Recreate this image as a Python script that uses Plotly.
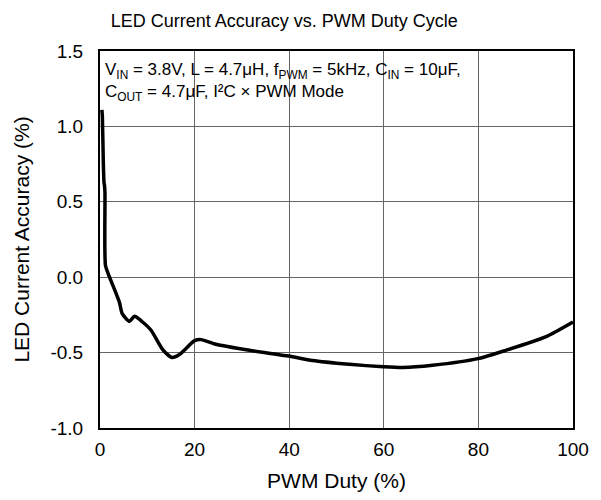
import plotly.graph_objects as go

duty = [0.4, 0.5, 0.7, 0.85, 0.95, 1.05, 1.16, 2.0, 4.1, 4.7, 6.2, 7.3, 9.0, 10.8, 13.3, 15.2,
        16.8, 20.0, 21.4, 24.5, 31.6, 39.9, 44.9, 52.7, 59.9, 64.0, 70.3, 79.9, 85.8, 94.2, 100.0]
accuracy = [1.11, 1.066, 0.761, 0.628, 0.608, 0.557, 0.078, 0.002, -0.166, -0.242, -0.293, -0.259,
            -0.297, -0.352, -0.482, -0.533, -0.513, -0.421, -0.414, -0.445, -0.485, -0.523, -0.553,
            -0.578, -0.594, -0.599, -0.584, -0.540, -0.485, -0.396, -0.297]

x_ticks = [0, 20, 40, 60, 80, 100]
y_ticks = [-1.0, -0.5, 0.0, 0.5, 1.0, 1.5]
y_tick_labels = ["-1.0", "-0.5", "0.0", "0.5", "1.0", "1.5"]

font = "Liberation Sans, Arial, sans-serif"

fig = go.Figure()
fig.add_trace(go.Scatter(x=duty, y=accuracy, mode="lines",
                         line=dict(color="black", width=3.5, shape="spline", smoothing=0.6),
                         showlegend=False, hoverinfo="skip"))

fig.update_layout(
    width=593, height=492,
    margin=dict(l=92, r=28, t=42.5, b=72),
    paper_bgcolor="white", plot_bgcolor="white",
    title=dict(text="LED Current Accuracy vs. PWM Duty Cycle", x=0.466, xanchor="center",
               y=1 - 13 / 492, yanchor="middle", font=dict(family=font, size=18, color="black")),
    font=dict(family=font, size=18, color="black"),
)
fig.update_xaxes(range=[0, 100], tickvals=x_ticks, ticks="", showgrid=True, gridcolor="#666666",
                 gridwidth=1, showline=True, linecolor="black", linewidth=2, mirror=True,
                 zeroline=False, ticklabelstandoff=3,
                 title=dict(text="PWM Duty (%)", font=dict(family=font, size=21), standoff=15),
                 tickfont=dict(family=font, size=19))
fig.update_yaxes(range=[-1.0, 1.5], tickvals=y_ticks, ticktext=y_tick_labels, ticks="",
                 showgrid=True, gridcolor="#666666", gridwidth=1, showline=True, linecolor="black",
                 linewidth=2, mirror=True, zeroline=False, ticklabelstandoff=11,
                 title=dict(text="LED Current Accuracy (%)", font=dict(family=font, size=21), standoff=15),
                 tickfont=dict(family=font, size=19))

fig.add_annotation(
    xref="paper", yref="paper", x=0.007, y=0.982, xanchor="left", yanchor="top", align="left",
    showarrow=False,
    text="V<sub>IN</sub> = 3.8V, L = 4.7μH, f<sub>PWM</sub> = 5kHz, C<sub>IN</sub> = 10μF,<br>"
         "C<sub>OUT</sub> = 4.7μF, I²C × PWM Mode",
    font=dict(family=font, size=17, color="black"),
)

fig.write_html("out.html")
